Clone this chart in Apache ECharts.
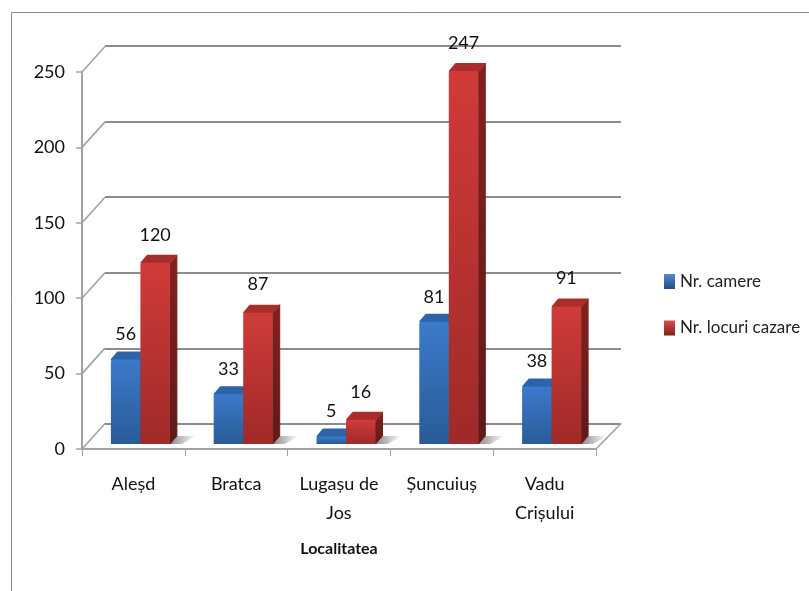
<!DOCTYPE html>
<html><head><meta charset="utf-8">
<style>html,body{margin:0;padding:0;background:#fff}#c{width:809px;height:591px}</style>
<script src="https://cdn.jsdelivr.net/npm/echarts@6/dist/echarts.min.js"></script>
</head><body><div id="c"></div>
<script>
const categories = ['Aleșd','Bratca','Lugașu de\nJos','Șuncuiuș','Vadu\nCrișului'];
const camere = [56,33,5,81,38];
const locuri = [120,87,16,247,91];
const yTicks = [0,50,100,150,200,250];
const axisName = 'Localitatea';
const seriesNames = ['Nr. camere','Nr. locuri cazare'];

const FONT = 'Lato,"Liberation Sans",sans-serif';
const FS = 18;
const DX = 7, DY = 8, WIDTH_RATIO = 0.287;
const WALL_DX = 23, WALL_DY = -25.5;
const GRAY = '#a2a2a2';

function grad(a,b,horizontal){
  return {type:'linear',x:0,y:0,x2:horizontal?1:0,y2:horizontal?0:1,
    colorStops:[{offset:0,color:a},{offset:1,color:b}]};
}
const palette = [
  {front:grad('#3b7acb','#2a5b97'),side:grad('#2a5a98','#1f4474'),top:'#2d64a8',legend:grad('#4d8ad6','#234d80')},
  {front:grad('#d03b39','#9f2a28'),side:grad('#82211f','#5f1a19'),top:'#a82d2b',legend:grad('#d9504c','#7d201f')}
];

function barRender(si){
  return function(params,api){
    const cat = api.value(0), val = api.value(1);
    const c = api.coord([cat,val]), b = api.coord([cat,0]);
    const w = api.size([1,0])[0]*WIDTH_RATIO;
    const x0 = si===0 ? c[0]-w : c[0], x1 = x0+w;
    const p = palette[si];
    const kids = [];
    if(si===1){
      kids.push({type:'polygon',shape:{points:[[x1,b[1]],[x1+DX,b[1]-DY],[x1+26,b[1]-DY],[x1+12,b[1]]]},
        style:{fill:grad('#8a8a8a','#ffffff',true)}});
    }
    kids.push({type:'polygon',shape:{points:[[x1,c[1]],[x1+DX,c[1]-DY],[x1+DX,b[1]-DY],[x1,b[1]]]},
      style:{fill:p.side,stroke:p.side,lineWidth:1,lineJoin:'round'}});
    kids.push({type:'polygon',shape:{points:[[x0+1,c[1]],[x0+DX,c[1]-DY+1],[x1+DX-1,c[1]-DY+1],[x1,c[1]]]},
      style:{fill:p.top,stroke:p.top,lineWidth:2,lineJoin:'round'}});
    kids.push({type:'rect',shape:{x:x0,y:c[1],width:w,height:b[1]-c[1],r:[2,2,0,0]},style:{fill:p.front}});
    kids.push({type:'text',style:{text:String(val),x:(x0+x1)/2,y:c[1]-(si===0?25:28),
      align:'center',verticalAlign:'middle',font:FS+'px '+FONT,fill:'#111'},z2:50});
    return {type:'group',children:kids};
  };
}
function wallRender(params,api){
  const cs = params.coordSys;
  const y = api.coord([0,api.value(1)])[1];
  return {type:'line',shape:{x1:cs.x,y1:y,x2:cs.x+WALL_DX,y2:y+WALL_DY},style:{stroke:GRAY,lineWidth:1.6}};
}
function floorRender(params,api){
  const cs = params.coordSys;
  const y = cs.y+cs.height, x = cs.x+cs.width;
  return {type:'line',shape:{x1:x,y1:y,x2:x+WALL_DX+2,y2:y+WALL_DY},style:{stroke:GRAY,lineWidth:1.6}};
}
function xAxisHidden(i){return {type:'category',gridIndex:i,data:categories,show:false};}
function yAxisHidden(i,extra){return Object.assign({type:'value',gridIndex:i,min:0,max:250,interval:50,
  axisLine:{show:false},axisTick:{show:false},axisLabel:{show:false},splitLine:{show:false}},extra||{});}

const option = {
  animation:false,
  backgroundColor:'#fff',
  graphic:[
    {type:'line',shape:{x1:11.5,y1:12.5,x2:809,y2:12.5},style:{stroke:'#8a8a8a',lineWidth:1},silent:true},
    {type:'line',shape:{x1:11.5,y1:12.5,x2:11.5,y2:591},style:{stroke:'#8a8a8a',lineWidth:1},silent:true}
  ],
  grid:[
    {left:82,top:72,width:514,height:377},
    {left:105,top:46,width:516,height:378},
    {left:89,top:66.5,width:514,height:377.5}
  ],
  xAxis:[
    {type:'category',gridIndex:0,data:categories,boundaryGap:true,
      axisLine:{lineStyle:{color:GRAY,width:2}},
      axisTick:{show:true,length:7,alignWithLabel:false,lineStyle:{color:GRAY,width:1}},
      axisLabel:{interval:0,margin:21,fontFamily:FONT,fontSize:FS,lineHeight:29,color:'#111'},
      name:axisName,nameLocation:'middle',nameGap:92,
      nameTextStyle:{fontFamily:FONT,fontSize:16,fontWeight:'bold',color:'#111'}},
    xAxisHidden(1),xAxisHidden(2)
  ],
  yAxis:[
    {type:'value',gridIndex:0,min:0,max:250,interval:50,
      axisLine:{show:true,lineStyle:{color:GRAY,width:2}},
      axisTick:{show:true,length:6,lineStyle:{color:GRAY,width:1.5}},
      axisLabel:{margin:17,fontFamily:FONT,fontSize:FS,color:'#111'},
      splitLine:{show:false}},
    yAxisHidden(1,{splitLine:{show:true,lineStyle:{color:'#8c8c8c',width:2}}}),
    yAxisHidden(2)
  ],
  legend:{orient:'vertical',left:659,top:268,itemWidth:11,itemHeight:15,itemGap:29.5,
    data:seriesNames,selectedMode:false,icon:'rect',
    textStyle:{fontFamily:FONT,fontSize:17,color:'#222'}},
  series:[
    {type:'custom',xAxisIndex:0,yAxisIndex:0,silent:true,z:1,clip:false,
      data:yTicks.map(v=>[0,v]),encode:{x:0,y:1},renderItem:wallRender},
    {type:'custom',xAxisIndex:0,yAxisIndex:0,silent:true,z:1,clip:false,
      data:[[0,0]],encode:{x:0,y:1},renderItem:floorRender},
    {type:'custom',name:seriesNames[0],xAxisIndex:2,yAxisIndex:2,z:3,clip:false,silent:true,
      itemStyle:{color:palette[0].legend},
      data:camere.map((v,i)=>[i,v]),encode:{x:0,y:1},renderItem:barRender(0)},
    {type:'custom',name:seriesNames[1],xAxisIndex:2,yAxisIndex:2,z:4,clip:false,silent:true,
      itemStyle:{color:palette[1].legend},
      data:locuri.map((v,i)=>[i,v]),encode:{x:0,y:1},renderItem:barRender(1)}
  ]
};
const chart = echarts.init(document.getElementById('c'),null,{renderer:'canvas'});
chart.setOption(option);
</script></body></html>
